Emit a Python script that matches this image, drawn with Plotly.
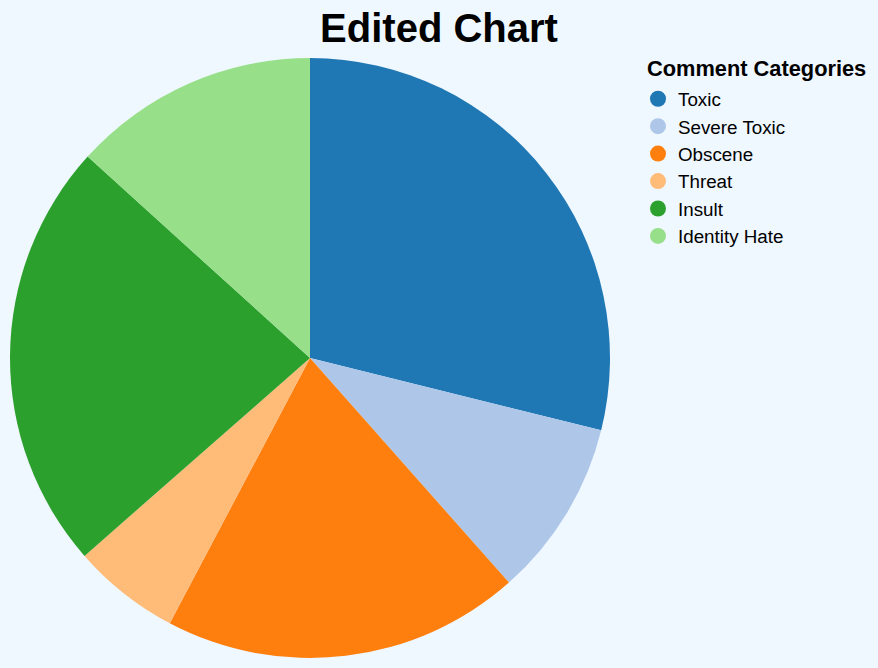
import plotly.graph_objects as go

categories = ["Toxic", "Severe Toxic", "Obscene", "Threat", "Insult", "Identity Hate"]
values = [28.9, 9.6, 19.3, 5.8, 23.2, 13.3]
colors = ["#1f77b4", "#aec7e8", "#ff7f0e", "#ffbb78", "#2ca02c", "#98df8a"]

W, H = 878, 668
BG = "#eff7ff"
ml, mr, mt, mb = 10, 0, 58, 10
pw = W - ml - mr
ph = H - mt - mb

fig = go.Figure()
fig.add_trace(go.Pie(
    labels=categories, values=values, sort=False, direction="clockwise", rotation=0,
    marker=dict(colors=colors, line=dict(width=0)), textinfo="none", hoverinfo="label+value",
    showlegend=False, domain=dict(x=[0, 600 / pw], y=[0, 1]),
))
for c, col in zip(categories, colors):
    fig.add_trace(go.Scatter(x=[None], y=[None], mode="markers", name=c,
                             marker=dict(symbol="circle", size=16, color=col)))

fig.update_layout(
    width=W, height=H,
    margin=dict(l=ml, r=mr, t=mt, b=mb),
    paper_bgcolor=BG, plot_bgcolor=BG,
    font=dict(family="Liberation Sans, Arial, sans-serif", color="#000000"),
    title=dict(text="Edited Chart", x=0.5, xanchor="center", xref="container",
               y=1 - 14 / H, yanchor="top", yref="container",
               font=dict(size=40, weight="bold", color="#000000")),
    xaxis=dict(visible=False), yaxis=dict(visible=False),
    legend=dict(x=(638 - ml) / pw, xanchor="left", y=1 - (80 - mt) / ph, yanchor="top",
                font=dict(size=18.8), itemsizing="trace", bgcolor="rgba(0,0,0,0)"),
    annotations=[dict(text="Comment Categories", xref="paper", yref="paper",
                      x=(645 - ml) / pw, xanchor="left", y=1 + (mt - 68) / ph, yanchor="middle",
                      showarrow=False, font=dict(size=21.8, weight="bold", color="#000000"))],
)
fig.write_html("out.html", config={"displayModeBar": False}, post_script=(
    "document.body.style.margin='0';document.body.style.padding='0';"
    "document.body.style.background='" + BG + "';"
    "document.documentElement.style.background='" + BG + "';"
))
